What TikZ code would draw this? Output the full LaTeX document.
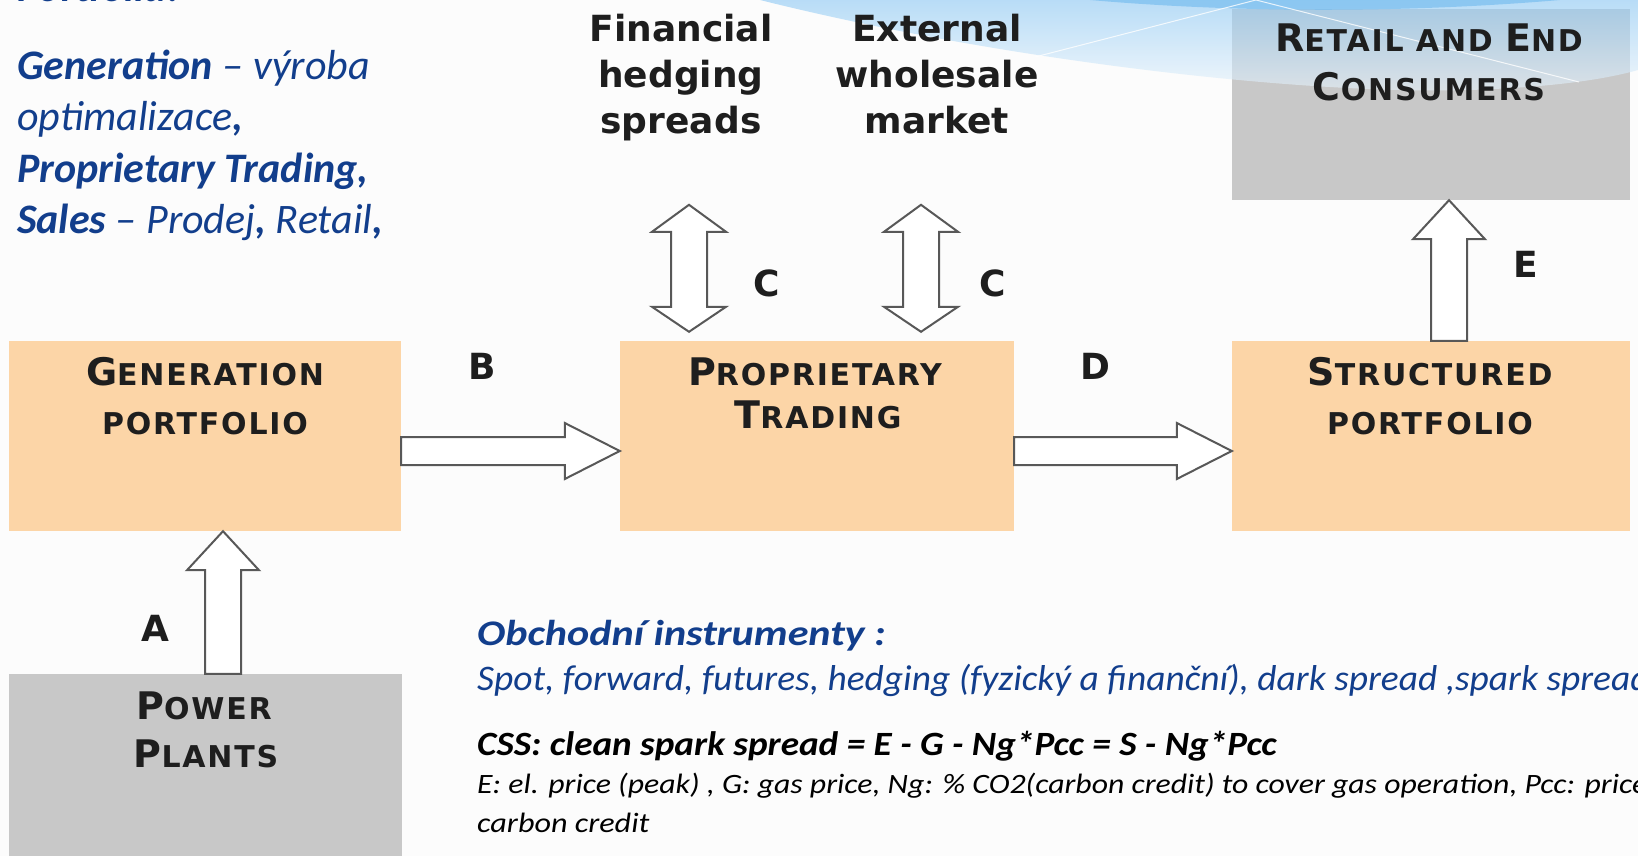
\documentclass[tikz,border=0pt]{standalone}
\usepackage{fontspec}
\usepackage{graphicx}
\setmainfont{Carlito}
\newfontfamily\djv{DejaVu Sans}
\newfontfamily\djvwide{DejaVu Sans}[LetterSpace=6]
\usetikzlibrary{calc}

\definecolor{peach}{RGB}{252,213,167}
\definecolor{boxgray}{RGB}{200,200,200}
\definecolor{deepblue}{RGB}{18,62,140}
\definecolor{ink}{RGB}{30,30,30}
\definecolor{edgegray}{RGB}{88,88,88}
\definecolor{pagebg}{RGB}{252,252,252}
\definecolor{skyA}{RGB}{140,200,244}
\definecolor{skyB}{RGB}{236,245,252}
\definecolor{skyC}{RGB}{110,185,238}

% fake small capitals: large initial, smaller rest
\newcommand\capsc[2]{{\fontsize{38}{38}\selectfont #1}{\fontsize{30}{30}\selectfont #2}}
\newcommand\lowsc[1]{{\fontsize{30}{30}\selectfont #1}}

% hollow block arrows between two points
\newcommand\hollowright[2]{%
  \draw[hollow] ($(#1)+(0,-14)$) -- ($(#2)+(-55,-14)$) -- ($(#2)+(-55,-28)$) -- (#2)
    -- ($(#2)+(-55,28)$) -- ($(#2)+(-55,14)$) -- ($(#1)+(0,14)$) -- cycle;}
\newcommand\hollowup[2]{%
  \draw[hollow] ($(#1)+(-18,0)$) -- ($(#2)+(-18,39)$) -- ($(#2)+(-36,39)$) -- (#2)
    -- ($(#2)+(36,39)$) -- ($(#2)+(18,39)$) -- ($(#1)+(18,0)$) -- cycle;}
\newcommand\hollowboth[2]{%
  \draw[hollow] (#2) -- ($(#2)+(37,27)$) -- ($(#2)+(18,27)$) -- ($(#1)+(18,-25)$)
    -- ($(#1)+(37,-25)$) -- (#1) -- ($(#1)+(-37,-25)$) -- ($(#1)+(-18,-25)$)
    -- ($(#2)+(-18,27)$) -- ($(#2)+(-37,27)$) -- cycle;}

\tikzset{
  box/.style={inner sep=0pt, draw=none},
  hollow/.style={fill=white, draw=edgegray, line width=2pt, line join=miter},
  boxlabel/.style={font=\djvwide\bfseries\fontsize{30}{30}\selectfont, text=ink, anchor=base, inner sep=0pt},
  toplabel/.style={font=\djv\bfseries\fontsize{36}{36}\selectfont, text=ink, anchor=base, inner sep=0pt},
  letter/.style={font=\djv\bfseries\fontsize{36}{36}\selectfont, text=ink, inner sep=0pt},
  sidetext/.style={font=\itshape\fontsize{42}{42}\selectfont, text=deepblue, anchor=base west, inner sep=0pt},
  foottext/.style={font=\itshape, anchor=base west, inner sep=0pt},
}

\begin{document}
\begin{tikzpicture}[x=1pt,y=-1pt]
\useasboundingbox (0,0) rectangle (1638,856);
\clip (0,0) rectangle (1638,856);
\fill[pagebg] (0,0) rectangle (1638,856);

% blocks
\node[box, fill=peach, minimum width=392pt, minimum height=190pt] (gen) at (205,436) {};
\node[box, fill=peach, minimum width=394pt, minimum height=190pt] (prop) at (817,436) {};
\node[box, fill=peach, minimum width=398pt, minimum height=190pt] (struct) at (1431,436) {};
\node[box, fill=boxgray, minimum width=398pt, minimum height=191pt] (retail) at (1431,104.5) {};
\node[box, fill=boxgray, minimum width=393pt, minimum height=192pt] (power) at (205.5,770) {};

% sky swoosh along the top edge
\shade[top color=skyA, bottom color=skyB, opacity=0.6]
  (760,0) .. controls (1000,60) and (1300,95) .. (1470,90)
  .. controls (1560,87) and (1610,78) .. (1638,70) -- (1638,0) -- cycle;
\fill[skyC, opacity=0.6] (1090,0) .. controls (1250,14) and (1420,12) .. (1560,0) -- cycle;
\draw[white, line width=1pt, opacity=0.8] (1035,57) -- (1256,0) -- (1579,82);

% block titles
\node[boxlabel] (genA) at (205,385) {\capsc{G}{ENERATION}};
\node[boxlabel] (genB) at (205,434) {\lowsc{PORTFOLIO}};
\node[boxlabel] (propA) at (815,385) {\capsc{P}{ROPRIETARY}};
\node[boxlabel] (propB) at (818,428) {\capsc{T}{RADING}};
\node[boxlabel] (structA) at (1430,385) {\capsc{S}{TRUCTURED}};
\node[boxlabel] (structB) at (1430,434) {\lowsc{PORTFOLIO}};
\node[boxlabel] (retailA) at (1429,52) {\capsc{R}{ETAIL} \lowsc{AND} \capsc{E}{ND}};
\node[boxlabel] (retailB) at (1429,101) {\capsc{C}{ONSUMERS}};
\node[boxlabel] (powerA) at (204,719) {\capsc{P}{OWER}};
\node[boxlabel] (powerB) at (206,767) {\capsc{P}{LANTS}};

% market labels
\node[toplabel] (finA) at (681,42) {Financial};
\node[toplabel] (finB) at (681,88) {hedging};
\node[toplabel] (finC) at (681,134) {spreads};
\node[toplabel] (extA) at (937,42) {External};
\node[toplabel] (extB) at (937,88) {wholesale};
\node[toplabel] (extC) at (937,134) {market};

% flows
\coordinate (btail) at ($(gen.east)+(0,15)$);
\coordinate (btip) at ($(prop.west)+(0,15)$);
\coordinate (dtail) at ($(prop.east)+(0,15)$);
\coordinate (dtip) at ($(struct.west)+(0,15)$);
\coordinate (atail) at ($(power.north)+(17.5,0)$);
\coordinate (atip) at ($(gen.south)+(18,0)$);
\coordinate (etail) at ($(struct.north)+(18,0)$);
\coordinate (etip) at ($(retail.south)+(18,0)$);
\coordinate (c1low) at ($(prop.north)+(-128,-9)$);
\coordinate (c1high) at ($(c1low)+(0,-127)$);
\coordinate (c2low) at ($(prop.north)+(104,-9)$);
\coordinate (c2high) at ($(c2low)+(0,-127)$);

\hollowright{btail}{btip}
\hollowright{dtail}{dtip}
\hollowup{atail}{atip}
\hollowup{etail}{etip}
\hollowboth{c1low}{c1high}
\hollowboth{c2low}{c2high}

\node[letter] (lA) at (155,628) {A};
\node[letter] (lB) at (482,366) {B};
\node[letter] (lC1) at (767,283) {C};
\node[letter] (lC2) at (993,283) {C};
\node[letter] (lD) at (1095,366) {D};
\node[letter] (lE) at (1526,264) {E};

% side notes
\node[sidetext] (s0) at (17,2) {\bfseries Portfolia:};
\node[sidetext] (s1) at (17,80) {\textbf{Generation} – výroba};
\node[sidetext] (s2) at (17,131) {optimalizace\textbf{,}};
\node[sidetext] (s3) at (17,182) {\textbf{Proprietary Trading,}};
\node[sidetext] (s4) at (17,233) {\textbf{Sales} – Prodej\textbf{,} Retail\textbf{,}};

% trading instruments
\node[foottext, text=deepblue] (f1) at (477,645)
  {\scalebox{1.17}[1]{\fontsize{36}{36}\selectfont\bfseries Obchodní instrumenty :}};
\node[foottext, text=deepblue] (f2) at (477,690)
  {\scalebox{1.04}[1]{\fontsize{36}{36}\selectfont Spot, forward, futures, hedging (fyzický a finanční), dark spread ,spark spread}};
\node[foottext, text=black] (f3) at (477,755)
  {\scalebox{1.094}[1]{\fontsize{34}{34}\selectfont\bfseries CSS: clean spark spread = E - G - Ng*Pcc = S - Ng*Pcc}};
\node[foottext, text=black] (f4) at (477,793)
  {\scalebox{1.134}[1]{\fontsize{28}{28}\selectfont E: el. price (peak) , G: gas price, Ng: \% CO2(carbon credit) to cover gas operation, Pcc: price}};
\node[foottext, text=black] (f5) at (477,832)
  {\scalebox{1.15}[1]{\fontsize{28}{28}\selectfont carbon credit}};
\end{tikzpicture}
\end{document}
